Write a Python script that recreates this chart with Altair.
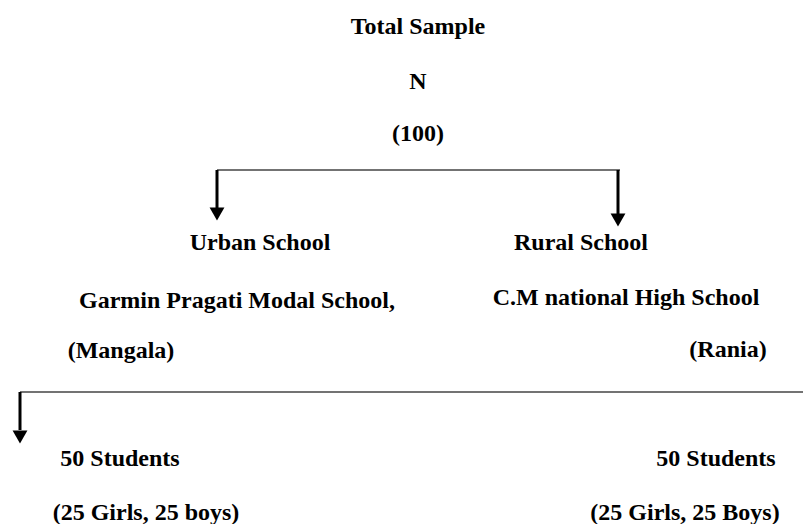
import altair as alt
import pandas as pd

# Diagram text content
labels = [
    "Total Sample", "N", "(100)",
    "Urban School", "Rural School",
    "Garmin Pragati Modal School,", "C.M national High School",
    "(Mangala)", "(Rania)",
    "50 Students", "50 Students",
    "(25 Girls, 25 boys)", "(25 Girls, 25 Boys)",
]
# Layout (reference pixel coordinates of each label's centre)
label_x = [418, 418, 418, 260, 581, 237, 626, 121, 728, 120, 716, 146, 685]
label_y = [27, 82, 134, 243, 243, 301, 298, 351, 350, 459, 459, 513, 513]

# Connector lines (thin horizontals)
conn_x1 = [217, 20]
conn_x2 = [620, 811]
conn_y = [170, 392]

# Arrow shafts and heads
arrow_x = [217, 618, 20]
arrow_y1 = [170, 170, 392]
arrow_y2 = [208, 214, 430]
head_y = [214, 220, 437]

W, H = 795, 516
xs = alt.Scale(domain=[8, 8 + W])
ys = alt.Scale(domain=[8, 8 + H], reverse=True)

text_df = pd.DataFrame({"label": labels, "x": label_x, "y": label_y})
conn_df = pd.DataFrame({"x1": conn_x1, "x2": conn_x2, "y": conn_y})
shaft_df = pd.DataFrame({"x": arrow_x, "y1": arrow_y1, "y2": arrow_y2})
head_df = pd.DataFrame({"x": arrow_x, "y": head_y})

texts = alt.Chart(text_df).mark_text(
    font="'Liberation Serif', 'Times New Roman', 'DejaVu Serif', serif",
    fontWeight="bold", fontSize=24,
    color="black", align="center", baseline="middle",
).encode(
    x=alt.X("x:Q", scale=xs, axis=None),
    y=alt.Y("y:Q", scale=ys, axis=None),
    text="label:N",
)

conns = alt.Chart(conn_df).mark_rule(color="#444444", strokeWidth=1.6).encode(
    x=alt.X("x1:Q", scale=xs, axis=None),
    x2="x2:Q",
    y=alt.Y("y:Q", scale=ys, axis=None),
)

shafts = alt.Chart(shaft_df).mark_rule(color="black", strokeWidth=3).encode(
    x=alt.X("x:Q", scale=xs, axis=None),
    y=alt.Y("y1:Q", scale=ys, axis=None),
    y2="y2:Q",
)

heads = alt.Chart(head_df).mark_point(
    shape="triangle-down", filled=True, color="black", size=220, opacity=1,
).encode(
    x=alt.X("x:Q", scale=xs, axis=None),
    y=alt.Y("y:Q", scale=ys, axis=None),
)

chart = alt.layer(conns, shafts, heads, texts).properties(
    width=W, height=H, padding=0, autosize=alt.AutoSizeParams(type="none"),
    background="white",
).configure_view(stroke=None)

chart.save("out.html", embed_options={"renderer": "svg", "actions": False})
